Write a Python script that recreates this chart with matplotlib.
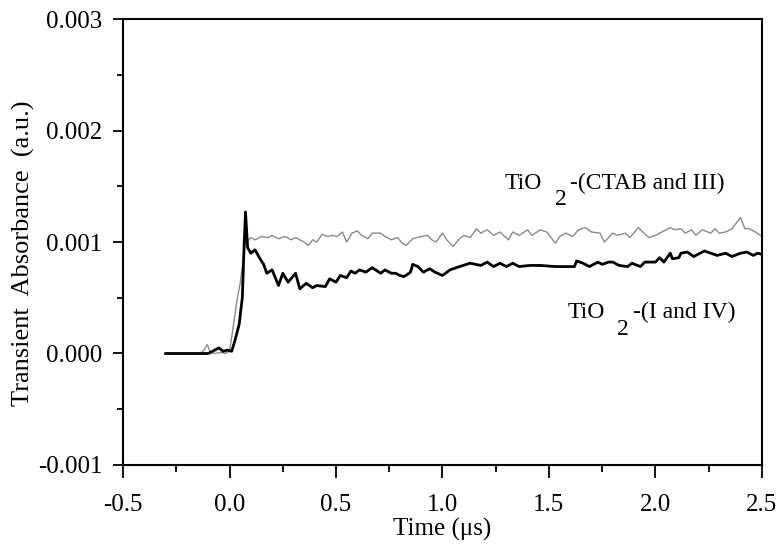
import matplotlib.pyplot as plt
import numpy as np
from matplotlib.ticker import MultipleLocator, FormatStrFormatter

# transient absorbance, values in units of 1e-3 a.u.
t_iv = [-0.30, -0.10, -0.07, -0.05, -0.03, -0.01, 0.01, 0.026, 0.045, 0.06, 0.068, 0.075,
        0.085, 0.10, 0.12, 0.14, 0.16, 0.175, 0.20, 0.23, 0.25, 0.275, 0.31, 0.33, 0.36,
        0.39, 0.41, 0.45, 0.47, 0.50, 0.52, 0.55, 0.57, 0.59, 0.61, 0.64, 0.67, 0.71, 0.73,
        0.76, 0.78, 0.80, 0.82, 0.85, 0.86, 0.885, 0.91, 0.94, 0.965, 1.00, 1.035, 1.08,
        1.13, 1.18, 1.21, 1.24, 1.27, 1.30, 1.33, 1.36, 1.41, 1.46, 1.53, 1.58, 1.62, 1.63,
        1.66, 1.69, 1.73, 1.75, 1.78, 1.80, 1.83, 1.87, 1.89, 1.93, 1.95, 2.00, 2.02, 2.04,
        2.07, 2.08, 2.11, 2.12, 2.15, 2.18, 2.21, 2.23, 2.26, 2.29, 2.33, 2.36, 2.40, 2.43,
        2.46, 2.48, 2.50]
a_iv = [0, 0, 0.03, 0.05, 0.02, 0.03, 0.02, 0.12, 0.26, 0.50, 0.95, 1.27,
        0.95, 0.90, 0.93, 0.86, 0.80, 0.72, 0.75, 0.61, 0.72, 0.64, 0.72, 0.58, 0.63,
        0.59, 0.61, 0.60, 0.67, 0.64, 0.70, 0.68, 0.74, 0.72, 0.75, 0.73, 0.77, 0.72, 0.75,
        0.72, 0.72, 0.70, 0.69, 0.73, 0.80, 0.78, 0.73, 0.76, 0.73, 0.70, 0.75, 0.78,
        0.81, 0.79, 0.82, 0.78, 0.81, 0.78, 0.81, 0.78, 0.79, 0.79, 0.78, 0.78, 0.78, 0.83,
        0.81, 0.78, 0.82, 0.80, 0.82, 0.82, 0.79, 0.78, 0.81, 0.78, 0.82, 0.82, 0.86, 0.82,
        0.90, 0.85, 0.86, 0.90, 0.91, 0.87, 0.90, 0.92, 0.90, 0.88, 0.90, 0.87, 0.90, 0.91,
        0.88, 0.90, 0.89]

t_ctab = [-0.14, -0.12, -0.105, -0.09, -0.07, -0.04, -0.02, 0.0, 0.015, 0.035, 0.05, 0.065,
          0.075, 0.09, 0.10, 0.12, 0.15, 0.18, 0.20, 0.23, 0.26, 0.29, 0.31, 0.33, 0.35,
          0.37, 0.39, 0.41, 0.435, 0.46, 0.485, 0.505, 0.53, 0.55, 0.575, 0.60, 0.62, 0.65,
          0.67, 0.71, 0.73, 0.76, 0.79, 0.81, 0.83, 0.86, 0.88, 0.90, 0.93, 0.95, 0.97,
          1.00, 1.02, 1.05, 1.08, 1.10, 1.13, 1.16, 1.18, 1.21, 1.24, 1.27, 1.31, 1.33,
          1.36, 1.40, 1.42, 1.46, 1.49, 1.53, 1.55, 1.58, 1.61, 1.64, 1.67, 1.70, 1.74,
          1.76, 1.80, 1.82, 1.86, 1.88, 1.92, 1.94, 1.97, 2.00, 2.03, 2.07, 2.09, 2.12,
          2.14, 2.17, 2.19, 2.22, 2.26, 2.28, 2.30, 2.33, 2.36, 2.38, 2.40, 2.42, 2.44,
          2.47, 2.50]
a_ctab = [0.0, 0.03, 0.08, 0.01, 0.0, 0.01, 0.0, 0.02, 0.21, 0.48, 0.63, 0.85,
          1.00, 1.02, 1.04, 1.02, 1.05, 1.04, 1.06, 1.03, 1.05, 1.02, 1.04, 1.02, 1.00,
          0.97, 1.02, 1.00, 1.07, 1.05, 1.06, 1.05, 1.09, 1.00, 1.08, 1.10, 1.06, 1.03,
          1.08, 1.08, 1.05, 1.02, 1.04, 0.99, 0.97, 1.03, 1.04, 1.05, 1.06, 1.02, 1.00,
          1.08, 1.02, 0.96, 1.03, 1.06, 1.04, 1.12, 1.08, 1.11, 1.06, 1.09, 1.02, 1.09,
          1.06, 1.11, 1.06, 1.11, 1.09, 0.99, 1.05, 1.08, 1.05, 1.11, 1.13, 1.09, 1.08,
          1.00, 1.08, 1.06, 1.08, 1.04, 1.13, 1.09, 1.04, 1.06, 1.09, 1.13, 1.11, 1.12,
          1.08, 1.11, 1.06, 1.11, 1.08, 1.12, 1.08, 1.09, 1.12, 1.17, 1.22, 1.12, 1.12,
          1.09, 1.05]

plt.rcParams['font.family'] = ['Liberation Serif', 'DejaVu Serif']
plt.rcParams['axes.unicode_minus'] = False

fig = plt.figure(figsize=(7.79, 5.47), dpi=100)
ax = fig.add_axes([0.158, 0.150, 0.820, 0.815])

ax.plot(t_ctab, np.array(a_ctab) * 1e-3, color='#8a8a8a', lw=1.0)
ax.plot(t_iv, np.array(a_iv) * 1e-3, color='black', lw=2.0)

ax.set_xlim(-0.5, 2.5)
ax.set_ylim(-0.001, 0.003)
ax.xaxis.set_major_locator(MultipleLocator(0.5))
ax.xaxis.set_minor_locator(MultipleLocator(0.25))
ax.yaxis.set_major_locator(MultipleLocator(0.001))
ax.yaxis.set_minor_locator(MultipleLocator(0.0005))
ax.xaxis.set_major_formatter(FormatStrFormatter('%.1f'))
ax.yaxis.set_major_formatter(FormatStrFormatter('%.3f'))
ax.tick_params(which='both', direction='out', top=False, right=False, width=1.3, labelsize=18)
ax.tick_params(axis='x', which='major', length=9, pad=12)
ax.tick_params(axis='x', which='minor', length=5)
ax.tick_params(axis='y', which='major', length=7, pad=8)
ax.tick_params(axis='y', which='minor', length=4)
for sp in ax.spines.values():
    sp.set_linewidth(1.5)

ax.set_xlabel('Time (\u03bcs)', fontsize=18, labelpad=1)
ax.set_ylabel('Transient  Absorbance  (a.u.)', fontsize=19, labelpad=2, y=0.475)

# labels: TiO, lowered 2, then the rest
def tio_label(x, y, rest):
    ax.text(x, y, 'TiO', fontsize=17, va='baseline', ha='left')
    ax.annotate('2', (x, y), xytext=(36, -12), textcoords='offset points',
                fontsize=17, va='baseline', ha='left')
    ax.annotate(rest, (x, y), xytext=(47, 0), textcoords='offset points',
                fontsize=17, va='baseline', ha='left')

tio_label(1.293, 0.00148, '-(CTAB and III)')
tio_label(1.587, 0.00032, '-(I and IV)')

fig.savefig('out.png', dpi=100)
